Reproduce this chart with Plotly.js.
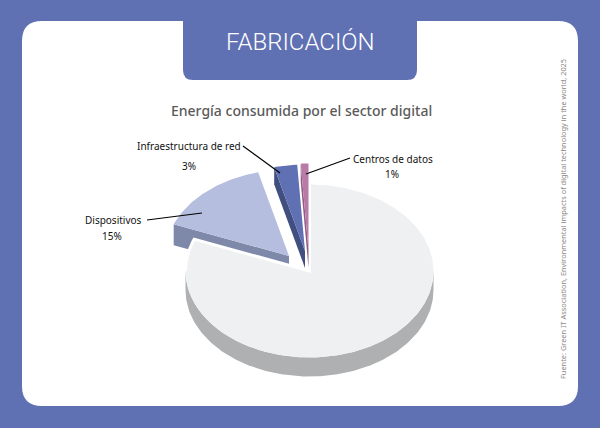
<!DOCTYPE html>
<html><head><meta charset="utf-8">
<script src="https://cdn.plot.ly/plotly-3.0.1.min.js"></script>
<style>html,body{margin:0;padding:0;background:#5F70B3}</style></head>
<body><div id="chart" style="width:600px;height:428px"></div>
<script>
const categories = ["Otros", "Dispositivos", "Infraestructura de red", "Centros de datos"];
const values = [81, 15, 3, 1];
const topColors = ["#EEF0F2", "#B5BEDF", "#5F70B3", "#B87BA8"];
const sideColors = ["#AEB0B1", "#7E88A9", "#414F80", "#8F5C84"];
const chartTitle = "Energía consumida por el sector digital";
const bannerText = "FABRICACIÓN";
const sourceText = "Fuente: Green IT Association, Environmental impacts of digital technology in the world, 2025";

const RX = 124, RY = 86.5;
const centers = [[309.5, 271], [289, 256], [305, 251], [308.5, 250]];
const depths = [19, 21, 17, 18];
const BG = "#5F70B3";

const total = values.reduce((a, b) => a + b, 0);
let acc = 0;
const spans = values.map(v => { const s = acc; acc += v; return [s / total * 360, acc / total * 360]; });
const pt = (c, a, d = 0) => { const r = a * Math.PI / 180; return [c[0] + RX * Math.sin(r), c[1] - RY * Math.cos(r) + d]; };
const arc = (c, a0, a1, d = 0) => { const out = [], n = Math.max(2, Math.ceil(Math.abs(a1 - a0))); for (let i = 0; i <= n; i++) out.push(pt(c, a0 + (a1 - a0) * i / n, d)); return out; };
const poly = (pts, color) => ({
  type: "scatter", mode: "lines", x: pts.map(p => p[0]), y: pts.map(p => p[1]),
  fill: "toself", fillcolor: color, line: { width: 0, color: color },
  hoverinfo: "skip", showlegend: false
});
const stroke = (pts, color, w) => ({
  type: "scatter", mode: "lines", x: pts.map(p => p[0]), y: pts.map(p => p[1]),
  line: { width: w, color: color }, hoverinfo: "skip", showlegend: false
});

const wedge = i => [centers[i], ...arc(centers[i], spans[i][0], spans[i][1]), centers[i]];
const radialFace = (i, ang) => {
  const c = centers[i], d = depths[i], p = pt(c, ang);
  return [c, p, [p[0], p[1] + d], [c[0], c[1] + d], c];
};

const traces = [];
traces.push(poly(radialFace(1, spans[1][0]), sideColors[1]));
traces.push(poly(wedge(1), topColors[1]));
const rim = [...arc(centers[0], 90, 270), ...arc(centers[0], 270, 90, depths[0])];
traces.push(poly(rim, sideColors[0]));
traces.push(poly(wedge(0), topColors[0]));
traces.push(stroke([...arc(centers[0], 270, spans[0][1]), centers[0], pt(centers[0], 0)], "#FFFFFF", 3));
traces.push(poly(radialFace(2, spans[2][0]), sideColors[2]));
traces.push(poly(wedge(2), topColors[2]));
traces.push(poly(radialFace(3, spans[3][0]), sideColors[3]));
traces.push(poly(wedge(3), topColors[3]));
traces.push(stroke([[147, 220], [202, 213]], "#000000", 1.2));
traces.push(stroke([[243, 146], [280, 173]], "#000000", 1.2));
traces.push(stroke([[350, 158], [306, 174]], "#000000", 1.2));

const labelFont = { family: "Noto Sans", size: 10, color: "#111111" };
const note = (x, y, text, font, extra) => Object.assign({ x, y, xref: "x", yref: "y", text, font, showarrow: false, xanchor: "center", yanchor: "middle" }, extra || {});

const layout = {
  width: 600, height: 428, margin: { l: 0, r: 0, t: 0, b: 0 },
  paper_bgcolor: BG, plot_bgcolor: "rgba(0,0,0,0)", showlegend: false,
  xaxis: { range: [0, 600], visible: false, fixedrange: true },
  yaxis: { range: [428, 0], visible: false, fixedrange: true },
  shapes: [
    { type: "path", layer: "below", xref: "x", yref: "y", fillcolor: "#FFFFFF", line: { width: 0 },
      path: "M42,21 L558,21 Q578,21 578,41 L578,386 Q578,406 558,406 L42,406 Q22,406 22,386 L22,41 Q22,21 42,21 Z" },
    { type: "path", layer: "below", xref: "x", yref: "y", fillcolor: BG, line: { width: 0 },
      path: "M183,0 L417,0 L417,70 Q417,80 407,80 L193,80 Q183,80 183,70 Z" }
  ],
  annotations: [
    note(300.5, 42, bannerText, { family: "Roboto", size: 24, color: "#FFFFFF", weight: 300 }),
    note(301, 110, chartTitle, { family: "Noto Sans", size: 14, color: "#5A5A5A", weight: 500 }),
    note(113, 220, categories[1], labelFont),
    note(112, 236, values[1] + "%", labelFont),
    note(188.5, 146, categories[2], labelFont),
    note(189, 166, values[2] + "%", labelFont),
    note(393, 159, categories[3], labelFont),
    note(392, 174, values[3] + "%", labelFont),
    note(563, 219, sourceText, { family: "Noto Sans", size: 7.4, color: "#888888" }, { textangle: -90 })
  ]
};
Plotly.newPlot("chart", traces, layout, { staticPlot: true, displayModeBar: false });
</script></body></html>
